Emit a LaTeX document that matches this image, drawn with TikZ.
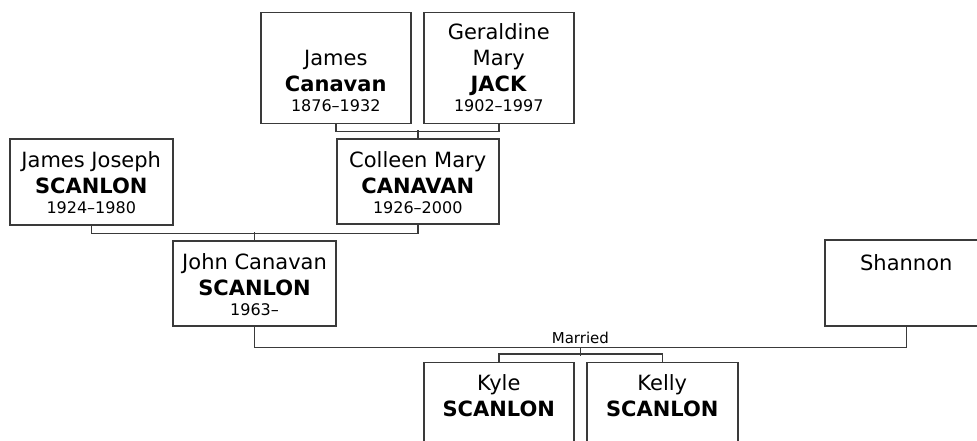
\documentclass[tikz,border=0pt]{standalone}
\usepackage{fontspec}
\setmainfont{DejaVu Sans}
\usetikzlibrary{positioning,calc}
\definecolor{boxLine}{HTML}{3A3A3A}
\newcommand{\lifespan}{\fontsize{16}{20}\selectfont}

\begin{document}
\begin{tikzpicture}[x=1pt,y=-1pt,
    every node/.style={inner sep=0pt,text=black},
    box/.style={draw=boxLine,line width=1.5pt,anchor=north west},
    who/.style={anchor=base,align=center,font=\fontsize{21}{26}\selectfont},
    link/.style={draw=boxLine,line width=1.5pt},
  ]
  \useasboundingbox (0,0) rectangle (977,441);
  \clip (0,0) rectangle (977,441);
  % grandparents (mother's side)
  \node[box,minimum width=150pt,minimum height=111pt] (jc) at (260,11.7) {};
  \node[who] at ([yshift=-100.3pt]jc.north)
        {James\\\textbf{Canavan}\\[-6pt]{\lifespan 1876–1932}};
  \node[box,minimum width=150pt,minimum height=111pt] (gm) at (423,11.7) {};
  \node[who] at ([yshift=-100.3pt]gm.north)
        {Geraldine\\Mary\\\textbf{JACK}\\[-6pt]{\lifespan 1902–1997}};

  % parents
  \node[box,minimum width=163pt,minimum height=86pt] (jj) at (9,138.3) {};
  \node[who] at ([yshift=-75pt]jj.north)
        {James Joseph\\\textbf{SCANLON}\\[-6pt]{\lifespan 1924–1980}};
  \node[box,minimum width=162pt,minimum height=85pt] (cm) at (336,138.3) {};
  \node[who] at ([yshift=-75pt]cm.north)
        {Colleen Mary\\\textbf{CANAVAN}\\[-6pt]{\lifespan 1926–2000}};

  % couple
  \node[box,minimum width=163pt,minimum height=85pt] (jn) at (172.3,240) {};
  \node[who] at ([yshift=-75pt]jn.north)
        {John Canavan\\\textbf{SCANLON}\\[-6pt]{\lifespan 1963–}};
  \node[box,minimum width=163pt,minimum height=86pt] (sh) at (824,239.3) {};
  \node[who] at ([yshift=-30.7pt]sh.north) {Shannon};

  % children
  \node[box,minimum width=150pt,minimum height=85pt] (ky) at (423,361.7) {};
  \node[who] at ([yshift=-55pt]ky.north) {Kyle\\\textbf{SCANLON}};
  \node[box,minimum width=151pt,minimum height=85pt] (ke) at (586,361.7) {};
  \node[who] at ([yshift=-55pt]ke.north) {Kelly\\\textbf{SCANLON}};

  % connectors
  \draw[link] (jc.south) -- ++(0,7.5) -| (gm.south);
  \draw[link] (cm.north) -- ++(0,-8);
  \draw[link] (jj.south) -- ++(0,7.7) -| (cm.south);
  \draw[link] (jn.north) -- ++(0,-8.3);
  \draw[link] (jn.south) -- ++(0,21) -| (sh.south);
  \coordinate (wed) at ($(jn.south)!0.5!(sh.south)+(0,21)$);
  \node[anchor=base,font=\fontsize{15}{18}\selectfont] (mar)
        at ([yshift=4.3pt]wed) {Married};
  \draw[link] (ky.north) -- ++(0,-7.5) -| (ke.north);
  \draw[link] (wed) -- ++(0,8.4);
\end{tikzpicture}
\end{document}
